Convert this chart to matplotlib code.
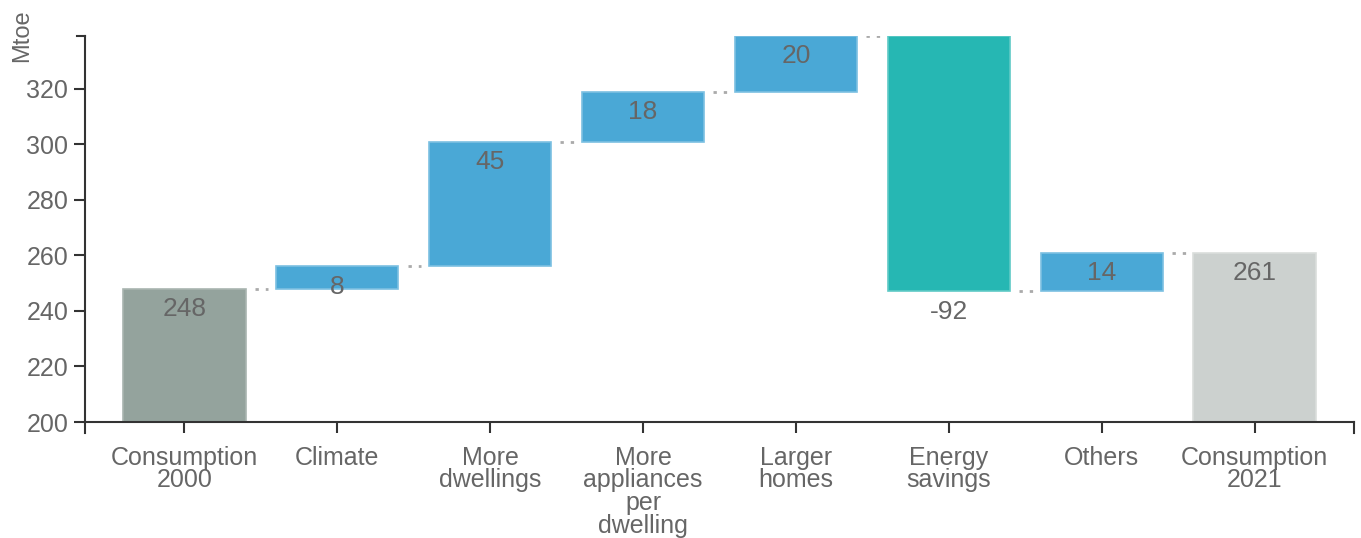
import matplotlib.pyplot as plt
import numpy as np

plt.rcParams['font.family'] = ['Liberation Sans', 'DejaVu Sans']

# data
categories = ['Consumption\n2000', 'Climate', 'More\ndwellings', 'More\nappliances\nper\ndwelling',
              'Larger\nhomes', 'Energy\nsavings', 'Others', 'Consumption\n2021']
changes = [248, 8, 45, 18, 20, -92, 14, 261]
kinds = ['total', 'up', 'up', 'up', 'up', 'down', 'up', 'total']

colors = {'start': '#94a39d', 'up': '#4aa8d6', 'down': '#26b7b3', 'end': '#ccd1cf'}
edges = {'start': '#a9b5b0', 'up': '#7cc0e2', 'down': '#5fcac6', 'end': '#dadedc'}
text_col = '#666666'

fig = plt.figure(figsize=(13.61, 5.38), dpi=100)
ax = fig.add_axes([85 / 1361, 1 - 422 / 538, (1354 - 85) / 1361, (422 - 36) / 538])

ymin, ymax = 200, 339
x = np.arange(len(categories))
width = 0.8

running = 0
levels = []
for i, (val, kind) in enumerate(zip(changes, kinds)):
    if kind == 'total':
        bottom, top = ymin, val
        key = 'start' if i == 0 else 'end'
        running = val
    else:
        start = running
        running = running + val
        bottom, top = min(start, running), max(start, running)
        key = 'up' if val > 0 else 'down'
    ax.bar(x[i], top - bottom, bottom=bottom, width=width, color=colors[key],
           edgecolor=edges[key], linewidth=1.2)
    levels.append(running)
    label = str(val)
    if val < 0:
        ax.annotate(label, (x[i], bottom), xytext=(0, -6), textcoords='offset points',
                    ha='center', va='top', fontsize=19, color=text_col)
    else:
        ax.annotate(label, (x[i], top), xytext=(0, -6), textcoords='offset points',
                    ha='center', va='top', fontsize=19, color=text_col)

# dotted connectors between bars
for i in range(len(categories) - 1):
    ax.plot([x[i] + width / 2 + 0.06, x[i] + width / 2 + 0.15], [levels[i], levels[i]],
            linestyle=(0, (1.2, 2.5)), color='#aaaaaa', linewidth=2)

ax.set_xlim(-0.65, len(categories) - 1 + 0.65)
ax.set_ylim(ymin, ymax)
ax.set_yticks(np.arange(200, 321, 20))
ax.set_xticks(x)
ax.set_xticklabels(categories, linespacing=0.93)

for s in ['top', 'right']:
    ax.spines[s].set_visible(False)
for s in ['left', 'bottom']:
    ax.spines[s].set_color('#333333')
    ax.spines[s].set_linewidth(1.5)

ax.tick_params(axis='both', colors='#333333', width=1.5, length=8, labelsize=18,
               labelcolor=text_col)
ax.tick_params(axis='x', pad=9)
ax.tick_params(axis='y', pad=4)

# outer ticks at the axis ends
ax.plot([0, 0], [0, -0.028], transform=ax.transAxes, color='#333333', lw=1.5, clip_on=False)
ax.plot([1, 1], [0, -0.028], transform=ax.transAxes, color='#333333', lw=1.5, clip_on=False)
ax.plot([0, -0.006], [1, 1], transform=ax.transAxes, color='#333333', lw=1.5, clip_on=False)

fig.text(22 / 1361, 1 - 36 / 538, 'Mtoe', rotation=90, ha='center', va='center',
         fontsize=17, color=text_col)

fig.savefig('out.png', dpi=100)
